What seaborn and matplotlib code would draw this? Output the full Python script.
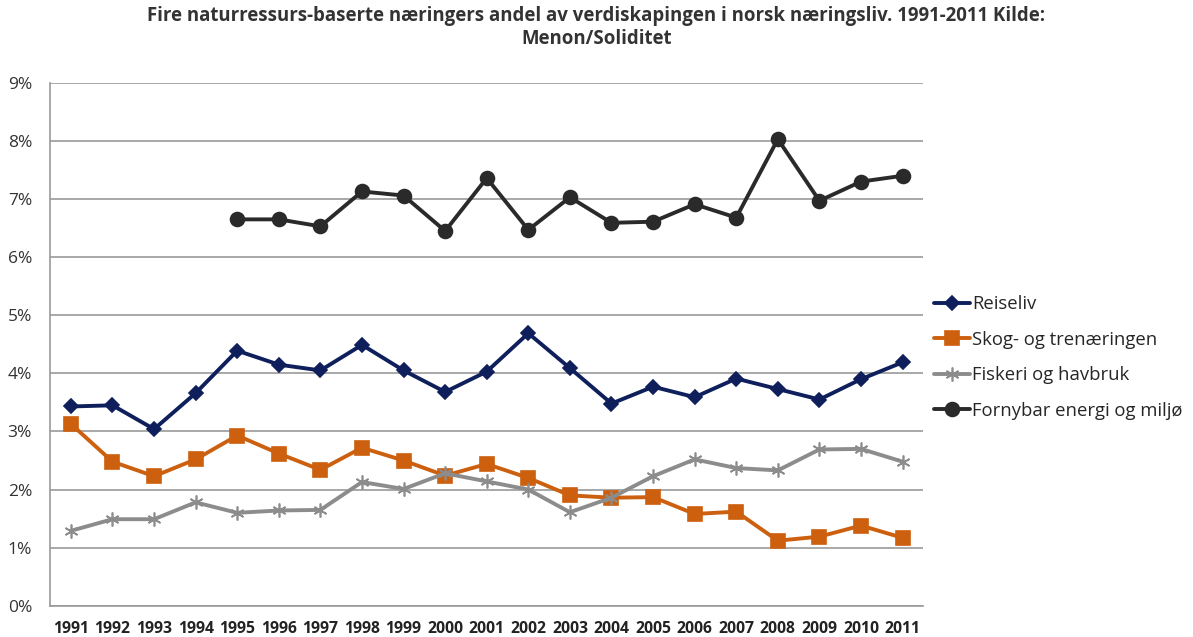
import numpy as np
import pandas as pd
import matplotlib
matplotlib.use("Agg")
import matplotlib.pyplot as plt
import seaborn as sns

years = [str(y) for y in range(1991, 2012)]

reiseliv = [3.43, 3.45, 3.04, 3.66, 4.39, 4.15, 4.05, 4.49, 4.05, 3.68, 4.03,
            4.69, 4.09, 3.48, 3.77, 3.59, 3.91, 3.73, 3.55, 3.90, 4.19]
skog = [3.13, 2.48, 2.23, 2.52, 2.93, 2.62, 2.34, 2.72, 2.50, 2.24, 2.44,
        2.20, 1.90, 1.86, 1.87, 1.58, 1.62, 1.12, 1.19, 1.38, 1.17]
fiskeri = [1.29, 1.49, 1.49, 1.78, 1.60, 1.64, 1.65, 2.13, 2.01, 2.28, 2.14,
           2.00, 1.61, 1.86, 2.23, 2.52, 2.37, 2.33, 2.69, 2.70, 2.48]
fornybar = [np.nan, np.nan, np.nan, np.nan, 6.65, 6.65, 6.53, 7.13, 7.06, 6.45, 7.36,
            6.47, 7.03, 6.59, 6.61, 6.91, 6.68, 8.03, 6.97, 7.30, 7.40]

series = {
    "Reiseliv": reiseliv,
    "Skog- og trenæringen": skog,
    "Fiskeri og havbruk": fiskeri,
    "Fornybar energi og miljø": fornybar,
}
colors = ["#0E1F5B", "#CC600E", "#8C8C8C", "#2A2A2A"]
markers = ["D", "s", (6, 2, 0), "o"]
msizes = [7, 10, 10, 10]

sns.set_style("white")
plt.rcParams["font.family"] = ["Open Sans", "DejaVu Sans"]

fig = plt.figure(figsize=(11.93, 6.37), dpi=100)
ax = fig.add_axes([0.042, 0.049, 0.732, 0.821])

x = np.arange(len(years))
for (name, vals), c, m, ms in zip(series.items(), colors, markers, msizes):
    df = pd.DataFrame({"x": x, "y": vals})
    sns.lineplot(data=df, x="x", y="y", ax=ax, color=c, linewidth=2.8,
                 marker=m, markersize=ms, markeredgecolor=c, markerfacecolor=c,
                 markeredgewidth=1.2, label=name)

ax.set_xlim(-0.5, len(years) - 0.5)
ax.set_ylim(0, 9)
ax.set_yticks(range(0, 10))
ax.set_yticklabels([f"{v}%" for v in range(0, 10)], fontsize=12.5, color="#333333")
ax.set_xticks(x)
ax.set_xticklabels(years, fontsize=11.3, fontweight="bold", color="#222222")
ax.tick_params(axis="y", length=0, pad=13)
ax.tick_params(axis="x", length=0, pad=11)
ax.set_xlabel("")
ax.set_ylabel("")
ax.yaxis.grid(True, color="#999999", linewidth=1.2)
ax.set_axisbelow(True)
for s in ["top", "right"]:
    ax.spines[s].set_visible(False)
for s in ["left", "bottom"]:
    ax.spines[s].set_color("#999999")
    ax.spines[s].set_linewidth(1.2)

ax.legend(loc="center left", bbox_to_anchor=(1.0, 0.475), frameon=False,
          fontsize=13.3, handlelength=1.9, labelspacing=0.95, handletextpad=0.15,
          borderaxespad=0.2)

fig.suptitle("Fire naturressurs-baserte næringers andel av verdiskapingen i norsk næringsliv. 1991-2011 Kilde:\nMenon/Soliditet",
             fontsize=13.4, fontweight="bold", color="#333333", x=0.5, y=0.99)

fig.savefig("out.png", dpi=100)
